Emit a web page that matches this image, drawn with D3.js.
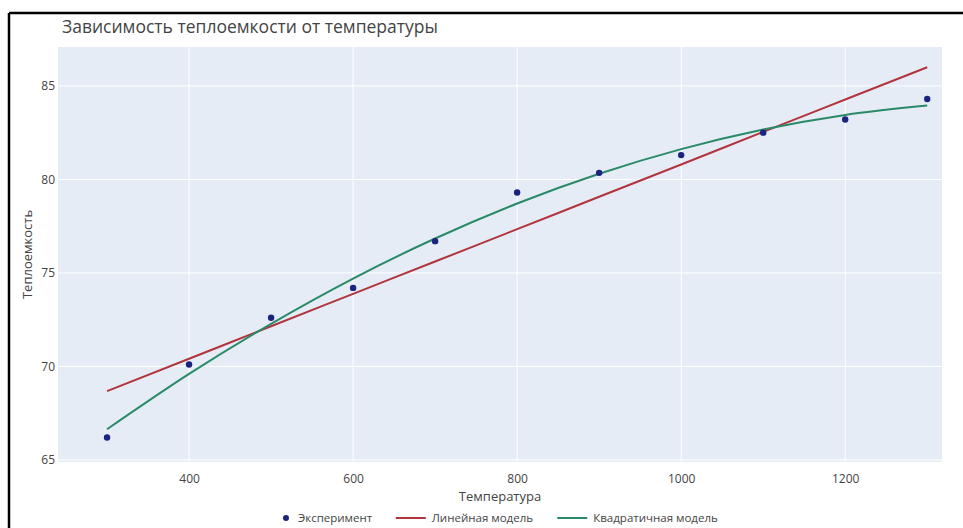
<!DOCTYPE html>
<html>
<head>
<meta charset="utf-8">
<script src="https://cdn.jsdelivr.net/npm/d3@7"></script>
<style>
  body { margin: 0; background: #fff; }
  svg { display: block; font-family: "Open Sans", Verdana, sans-serif; }
</style>
</head>
<body>
<svg id="canvas"></svg>
<script>
// Data
const temperatures = [300, 400, 500, 600, 700, 800, 900, 1000, 1100, 1200, 1300];
const experiment = [66.2, 70.1, 72.6, 74.2, 76.7, 79.3, 80.35, 81.3, 82.5, 83.2, 84.3];
const linearModel = [68.68, 70.41, 72.15, 73.88, 75.61, 77.34, 79.07, 80.8, 82.54, 84.27, 86.0];
const quadModel = [66.64, 69.6, 72.28, 74.7, 76.84, 78.71, 80.3, 81.62, 82.67, 83.45, 83.95];
const xTicks = [400, 600, 800, 1000, 1200];
const yTicks = [65, 70, 75, 80, 85];
const legendNames = ["Эксперимент", "Линейная модель", "Квадратичная модель"];

const width = 963;
const height = 528;
const plot = { left: 58, right: 942, top: 47, bottom: 462 };

const svg = d3.select("#canvas")
    .attr("width", width)
    .attr("height", height);

// frame lines seen on the screenshot edge
svg.append("line").attr("x1", 9).attr("x2", width).attr("y1", 13).attr("y2", 13)
    .attr("stroke", "#000").attr("stroke-width", 2.5);
svg.append("line").attr("x1", 9).attr("x2", 9).attr("y1", 13).attr("y2", height)
    .attr("stroke", "#000").attr("stroke-width", 2.5);

const x = d3.scaleLinear().domain([240.2, 1318]).range([plot.left, plot.right]);
const y = d3.scaleLinear().domain([64.89, 87.08]).range([plot.bottom, plot.top]);

svg.append("rect")
    .attr("x", plot.left).attr("y", plot.top)
    .attr("width", plot.right - plot.left).attr("height", plot.bottom - plot.top)
    .attr("fill", "#e5ecf6");

// grid
svg.append("g").selectAll("line").data(yTicks).enter().append("line")
    .attr("x1", plot.left).attr("x2", plot.right)
    .attr("y1", d => y(d)).attr("y2", d => y(d))
    .attr("stroke", "#fff").attr("stroke-width", 1);
svg.append("g").selectAll("line").data(xTicks).enter().append("line")
    .attr("y1", plot.top).attr("y2", plot.bottom)
    .attr("x1", d => x(d)).attr("x2", d => x(d))
    .attr("stroke", "#fff").attr("stroke-width", 1);

// axes (labels only)
const xAxis = svg.append("g")
    .attr("transform", `translate(0,${plot.bottom})`)
    .call(d3.axisBottom(x).tickValues(xTicks).tickFormat(d3.format("d")).tickSize(0).tickPadding(12));
const yAxis = svg.append("g")
    .attr("transform", `translate(${plot.left},0)`)
    .call(d3.axisLeft(y).tickValues(yTicks).tickSize(0).tickPadding(3));
[xAxis, yAxis].forEach(a => {
    a.select(".domain").remove();
    a.selectAll("text").attr("fill", "#444").style("font-size", "12px")
        .style("font-family", "\"Open Sans\", Verdana, sans-serif");
});

// lines
const line = vals => d3.line()
    .x((d, i) => x(temperatures[i]))
    .y(d => y(d))
    .curve(d3.curveMonotoneX)(vals);

svg.append("path").attr("d", line(linearModel))
    .attr("fill", "none").attr("stroke", "#b2343c").attr("stroke-width", 2);
svg.append("path").attr("d", line(quadModel))
    .attr("fill", "none").attr("stroke", "#2a8a68").attr("stroke-width", 2);

svg.append("g").selectAll("circle").data(experiment).enter().append("circle")
    .attr("cx", (d, i) => x(temperatures[i]))
    .attr("cy", d => y(d))
    .attr("r", 3.2)
    .attr("fill", "#1a237e");

// titles
svg.append("text")
    .attr("x", 62).attr("y", 33)
    .attr("fill", "#444")
    .style("font-size", "17.5px")
    .text("Зависимость теплоемкости от температуры");

svg.append("text")
    .attr("x", (plot.left + plot.right) / 2).attr("y", 501)
    .attr("text-anchor", "middle")
    .attr("fill", "#444")
    .style("font-size", "13px")
    .text("Температура");

svg.append("text")
    .attr("transform", `translate(32,${(plot.top + plot.bottom) / 2}) rotate(-90)`)
    .attr("text-anchor", "middle")
    .attr("fill", "#444")
    .style("font-size", "13px")
    .text("Теплоемкость");

// legend
const legend = svg.append("g");
const legendY = 518;
const items = legend.selectAll("g").data(legendNames).enter().append("g");
items.each(function(d, i) {
    const g = d3.select(this);
    if (i === 0) {
        g.append("circle").attr("cx", 4).attr("cy", 0).attr("r", 3).attr("fill", "#1a237e");
        g.append("text").attr("x", 16).attr("y", 4)
            .attr("fill", "#444").style("font-size", "11.5px").text(d);
    } else {
        g.append("line").attr("x1", 0).attr("x2", 30).attr("y1", 0).attr("y2", 0)
            .attr("stroke", i === 1 ? "#b2343c" : "#2a8a68").attr("stroke-width", 2);
        g.append("text").attr("x", 36).attr("y", 4)
            .attr("fill", "#444").style("font-size", "11.5px").text(d);
    }
});
let offset = 0;
items.each(function() {
    const g = d3.select(this);
    g.attr("transform", `translate(${offset},${legendY})`);
    offset += this.getBBox().width + 24;
});
const legendWidth = offset - 24;
legend.attr("transform", `translate(${(plot.left + plot.right) / 2 - legendWidth / 2},0)`);
</script>
</body>
</html>
